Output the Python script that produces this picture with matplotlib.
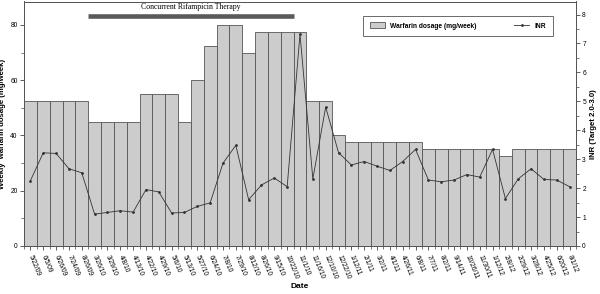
import matplotlib
matplotlib.use('Agg')
import matplotlib.pyplot as plt
from matplotlib.ticker import MultipleLocator, FixedLocator
import numpy as np

plt.rcParams['font.family'] = ['Liberation Sans', 'DejaVu Sans']

dates = ["5/22/09", "6/5/09", "6/26/09", "7/24/09", "8/26/09", "3/26/10", "3/29/10",
         "4/8/10", "4/13/10", "4/22/10", "4/29/10", "5/6/10", "5/13/10", "5/27/10",
         "6/24/10", "7/8/10", "7/29/10", "8/12/10", "8/26/10", "9/15/10", "10/22/10",
         "11/1/10", "11/16/10", "12/10/10", "12/22/10", "1/12/11", "2/1/11", "3/2/11",
         "4/1/11", "4/26/11", "6/8/11", "7/7/11", "8/2/11", "9/14/11", "10/26/11",
         "11/30/11", "1/12/12", "2/8/12", "2/29/12", "3/28/12", "4/25/12", "6/20/12",
         "8/1/12"]

warfarin = [52.5, 52.5, 52.5, 52.5, 52.5, 45, 45, 45, 45, 55, 55, 55, 45, 60,
            72.5, 80, 80, 70, 77.5, 77.5, 77.5, 77.5, 52.5, 52.5, 40, 37.5, 37.5,
            37.5, 37.5, 37.5, 37.5, 35, 35, 35, 35, 35, 35, 32.5, 35, 35, 35, 35, 35]

inr = [2.26, 3.22, 3.2, 2.67, 2.53, 1.1, 1.16, 1.22, 1.17, 1.95, 1.87, 1.14, 1.16,
       1.37, 1.49, 2.86, 3.48, 1.6, 2.11, 2.35, 2.05, 7.32, 2.32, 4.8, 3.23, 2.8,
       2.92, 2.76, 2.61, 2.92, 3.34, 2.28, 2.22, 2.28, 2.47, 2.38, 3.34, 1.64, 2.32,
       2.67, 2.3, 2.28, 2.05]

# rifampicin period, in bar-edge positions
rif_start, rif_end = 4.5, 20.5

fig = plt.figure(figsize=(6, 2.94), dpi=100)
ax = fig.add_axes([24/600, 48/294, 552/600, 244.5/294])
x = np.arange(len(dates))

bars = ax.bar(x, warfarin, width=1.0, color='#cccccc', edgecolor='#555555',
              linewidth=0.6, label='Warfarin dosage (mg/week)')
ax.set_xlim(-0.5, len(dates) - 0.5)
ax.set_ylim(0, 88.5)

ax.plot([rif_start, rif_end], [83.2, 83.2], color='#5a5a5a', lw=3.3,
        solid_capstyle='butt')
ax.text((rif_start + rif_end) / 2, 86.6, "Concurrent Rifampicin Therapy",
        family='Liberation Serif', fontsize=5.6, ha='center', va='center')

ax.set_xticks(x)
ax.set_xticklabels(dates, rotation=-68, rotation_mode='anchor', ha='left',
                   va='center', fontsize=4.8)
ax.xaxis.set_minor_locator(FixedLocator(np.arange(-0.5, len(dates), 1.0)))
ax.yaxis.set_major_locator(MultipleLocator(20))
ax.yaxis.set_minor_locator(MultipleLocator(10))
ax.tick_params(axis='both', which='major', length=3, width=0.6, labelsize=4.8,
               pad=1.5, color='#444444')
ax.tick_params(axis='both', which='minor', length=2, width=0.5, color='#444444')
ax.tick_params(axis='x', which='major', pad=4)
ax.set_ylabel("Weekly  warfarin dosage (mg/week)", fontsize=5.6, fontweight='bold',
              labelpad=3)
ax.set_xlabel("Date", fontsize=6, fontweight='bold', labelpad=2)
for s in ax.spines.values():
    s.set_linewidth(0.7)
    s.set_color('#555555')

ax2 = ax.twinx()
line, = ax2.plot(x, inr, color='#333333', lw=0.6, marker='.', markersize=2,
                 label='INR')
ax2.set_ylim(0, 8.45)
ax2.yaxis.set_major_locator(MultipleLocator(1))
ax2.yaxis.set_minor_locator(MultipleLocator(0.5))
ax2.tick_params(axis='y', which='major', length=3, width=0.6, labelsize=4.8,
                pad=1.5, color='#444444')
ax2.tick_params(axis='y', which='minor', length=2, width=0.5, color='#444444')
ax2.set_ylabel("INR (Target 2.0-3.0)", fontsize=5.6, fontweight='bold', labelpad=3)
for s in ax2.spines.values():
    s.set_linewidth(0.7)
    s.set_color('#555555')

leg = fig.legend([bars, line], ['Warfarin dosage (mg/week)', 'INR'], ncol=2,
                 loc='lower left', mode='expand',
                 bbox_to_anchor=(360/600, 1 - 39.5/294, 196/600, 25/294),
                 fancybox=False, frameon=True, prop={'size': 4.8, 'weight': 'bold'},
                 handlelength=2.2, handleheight=0.9, borderpad=1.0)
leg.get_frame().set_edgecolor('#444444')
leg.get_frame().set_linewidth(0.7)

fig.savefig('out.png', dpi=100)
